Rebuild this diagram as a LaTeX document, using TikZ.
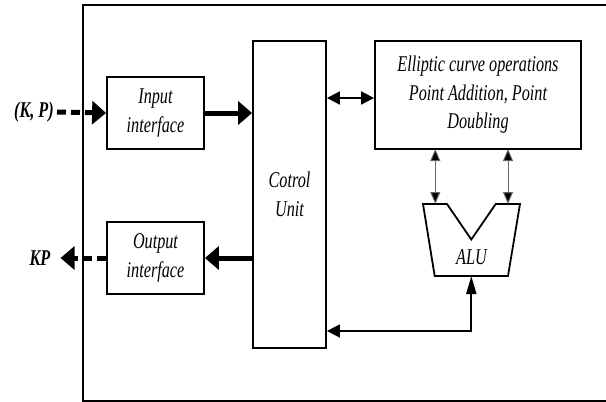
\documentclass[tikz,border=0pt]{standalone}
\usepackage{fontspec}
\setmainfont{Liberation Serif}
\newfontfamily\condfont[FakeStretch=0.72]{Liberation Serif}
\usetikzlibrary{arrows.meta}
\begin{document}
\begin{tikzpicture}[x=1pt,y=-1pt,
  blk/.style={draw,line width=1.8pt,inner sep=0pt,align=center,
    font=\condfont\itshape\fontsize{22.5}{28.5}\selectfont},
  lbl/.style={inner sep=0pt,font=\condfont\itshape\fontsize{22.5}{28.5}\selectfont},
  io/.style={inner sep=0pt,font=\condfont\bfseries\itshape\fontsize{22.5}{28.5}\selectfont},
  fat/.style={line width=5pt,-{Triangle[length=14pt,width=23pt]}},
  dfat/.style={line width=5pt,dash pattern=on 9pt off 5pt,-{Triangle[length=14pt,width=23pt]}},
  thin/.style={line width=1.8pt,{Triangle[length=13pt,width=13pt]}-{Triangle[length=13pt,width=13pt]}},
  vthin/.style={line width=1pt,draw=black!60,{Triangle[length=12pt,width=10pt,fill=black]}-{Triangle[length=12pt,width=10pt,fill=black]}},
]
\useasboundingbox (0,0) rectangle (606,402);
\begin{scope}
\clip (0,0) rectangle (606,402);
\draw[line width=2pt] (83,5) rectangle (640,401);
\end{scope}

\node[blk,minimum width=97pt,minimum height=72pt] (in) at (155.5,113) {Input\\interface};
\node[blk,minimum width=97pt,minimum height=72pt] (out) at (155.5,258) {Output\\interface};
\node[blk,minimum width=73pt,minimum height=307pt] (cu) at (289.5,194.5) {Cotrol\\Unit};
\node[blk,minimum width=206pt,minimum height=108pt] (ec) at (478,95) {Elliptic curve operations\\Point Addition, Point\\Doubling};
\node[inner sep=0pt,minimum width=97pt,minimum height=72pt] (alu) at (471.5,240) {};
\draw[line width=1.8pt,line join=miter]
  (423,204) -- (447,204) -- (471.3,239.5) -- (495.7,204) -- (520,204)
  -- (508,276) -- (434.7,276) -- cycle;
\node[lbl] (alutxt) at (471.5,257) {ALU};

\node[io] (kpin) at (34,112) {(K, P)};
\node[io] (kpout) at (40,258) {KP};

\draw[dfat] (kpin.east) ++(3pt,0) -- (in.west);
\draw[fat] (in.east) -- (in.east -| cu.west);
\draw[fat] (out.east -| cu.west) -- (out.east);
\draw[dfat] (out.west) -- ([xshift=10pt]kpout.east);

\draw[thin] (cu.east |- 0,98) -- (ec.west |- 0,98);
\draw[vthin] (435.3,149) -- (435.3,204);
\draw[vthin] (508,149) -- (508,204);
\draw[line width=1.8pt,{Triangle[length=13pt,width=13pt]}-{Triangle[length=18pt,width=10pt]}]
  (cu.east |- 0,331) -- (471.3,331) -- (471.3,276);
\end{tikzpicture}
\end{document}
